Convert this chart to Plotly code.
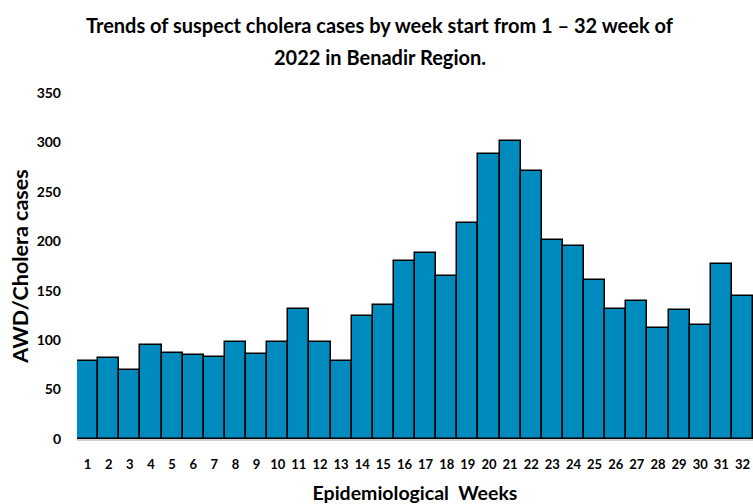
import plotly.graph_objects as go

weeks = [str(i) for i in range(1, 33)]
cases = [79, 82, 70, 95, 87, 85, 83, 98, 86, 98, 132, 98, 79, 124, 136, 180,
         188, 165, 218, 288, 301, 271, 201, 195, 161, 132, 140, 112, 130, 115, 177, 145]
y_ticks = [0, 50, 100, 150, 200, 250, 300, 350]

title_line1 = "Trends of suspect cholera cases by week start from 1 \u2013 32 week of"
title_line2 = "2022 in Benadir Region."

fig = go.Figure(go.Bar(
    x=weeks, y=cases,
    marker=dict(color="#008BBF", line=dict(color="black", width=1.5)),
))

title_font = dict(size=20, family="Lato", weight="bold", color="black")
fig.add_annotation(text=title_line1, xref="paper", yref="paper", x=0.448, xanchor="center",
                   y=(439 - 25) / 346, yanchor="middle", showarrow=False, font=title_font)
fig.add_annotation(text=title_line2, xref="paper", yref="paper", x=0.448, xanchor="center",
                   y=(439 - 57) / 346, yanchor="middle", showarrow=False, font=title_font)

fig.update_layout(
    width=753, height=504,
    margin=dict(l=77, r=0, t=93, b=65),
    plot_bgcolor="white", paper_bgcolor="white",
    bargap=0,
    showlegend=False,
    font=dict(family="Lato", color="black"),
)
fig.update_xaxes(
    automargin=False,
    showgrid=False, showline=True, linecolor="#d0d0d0", linewidth=2,
    tickfont=dict(size=13, weight="bold"), ticklabelstandoff=12,
    title=dict(text="Epidemiological  Weeks", font=dict(size=19.5, weight="bold"), standoff=23),
)
fig.update_yaxes(
    automargin=False,
    range=[0, 350], tickvals=y_ticks, showgrid=False, showline=False, zeroline=False,
    tickfont=dict(size=14, weight="bold"), ticklabelstandoff=15,
    title=dict(text="AWD/Cholera cases", font=dict(size=21.5, weight="bold"), standoff=2),
)

fig.write_html("out.html", post_script="document.body.style.margin='0';",
               config={"displayModeBar": False})
